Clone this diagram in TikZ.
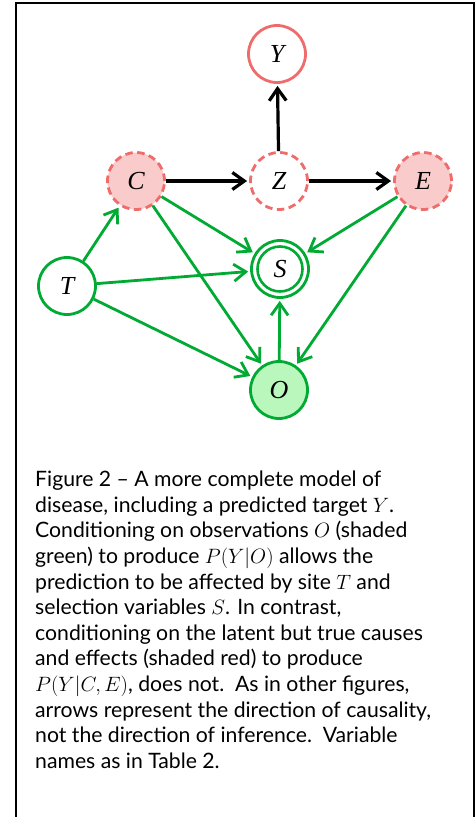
\documentclass[tikz,border=0pt]{standalone}
\usepackage{fontspec}
\setmainfont{Lato}
\newfontfamily\nodefont{Liberation Serif}
\usetikzlibrary{arrows.meta}
\definecolor{redline}{RGB}{238,108,108}
\definecolor{redfill}{RGB}{249,203,203}
\definecolor{grn}{RGB}{0,170,51}
\definecolor{grnfill}{RGB}{186,247,188}
\begin{document}
\begin{tikzpicture}[x=1pt,y=-1pt,
  var/.style={circle, minimum size=57pt, inner sep=0pt, line width=2.8pt, font=\nodefont\itshape\fontsize{26}{26}\selectfont},
  redsolid/.style={var, draw=redline},
  reddash/.style={var, draw=redline, dash pattern=on 7.5pt off 4.5pt},
  grnnode/.style={var, draw=grn},
  blk/.style={line width=3.2pt, -{Straight Barb[length=12pt,width=17pt]}, shorten >=2pt},
  gar/.style={line width=2.8pt, draw=grn, -{Straight Barb[length=12pt,width=17pt]}, shorten >=2pt},
  captxt/.style={anchor=base west, inner sep=0pt, font=\fontsize{21.2}{25}\selectfont}
]
\useasboundingbox (0,0) rectangle (475,817);
\draw[line width=2pt] (16,817) -- (16,3) -- (474,3) -- (474,817);

\node[redsolid] (Y) at (277,54) {Y};
\node[reddash, fill=redfill] (C) at (136,181) {C};
\node[reddash] (Z) at (279,181) {Z};
\node[reddash, fill=redfill] (E) at (423,181) {E};
\node[grnnode] (S) at (280,269) {S};
\draw[grn, line width=2.6pt] (S.center) circle[radius=22.5];
\node[grnnode] (T) at (67,286) {T};
\node[grnnode, fill=grnfill] (O) at (279,390) {O};

\draw[blk] (Z) -- (Y);
\draw[blk] (C) -- (Z);
\draw[blk] (Z) -- (E);
\draw[gar] (T) -- (C);
\draw[gar] (C) -- (S);
\draw[gar] (C) -- (O);
\draw[gar] (E) -- (S);
\draw[gar] (E) -- (O);
\draw[gar] (T) -- (S);
\draw[gar] (T) -- (O);
\draw[gar] (O) -- (S);

\node[captxt] (l1) at (35,486.7) {Figure 2 -- A more complete model of};
\node[captxt] (l2) at (35,512.3) {disease, including a predicted target $Y$.};
\node[captxt] (l3) at (35,537.9) {Conditioning on observations $O$ (shaded};
\node[captxt] (l4) at (35,563.5) {green) to produce $P(Y|O)$ allows the};
\node[captxt] (l5) at (35,589.1) {prediction to be affected by site $T$ and};
\node[captxt] (l6) at (35,614.7) {selection variables $S$. In contrast,};
\node[captxt] (l7) at (35,640.3) {conditioning on the latent but true causes};
\node[captxt] (l8) at (35,665.9) {and effects (shaded red) to produce};
\node[captxt] (l9) at (35,691.5) {$P(Y|C,E)$, does not.\ \ As in other figures,};
\node[captxt] (l10) at (35,717.1) {arrows represent the direction of causality,};
\node[captxt] (l11) at (35,742.7) {not the direction of inference.\ \ Variable};
\node[captxt] (l12) at (35,768.3) {names as in Table 2.};
\end{tikzpicture}
\end{document}
